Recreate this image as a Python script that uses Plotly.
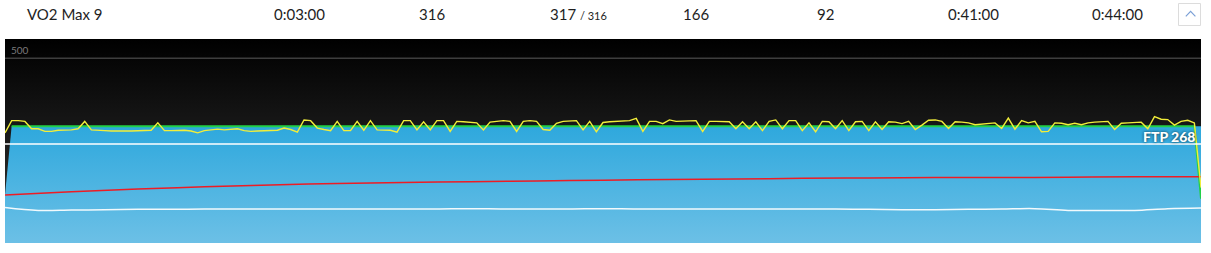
import plotly.graph_objects as go

# ---------------- data ----------------
header_labels = ["VO2 Max 9", "0:03:00", "316", "317", "/ 316", "166", "92", "0:41:00", "0:44:00"]

seconds = list(range(0, 181))

# target power (blue area) and target line (green)
target_area = [130] + [316] * 180
target_line = [None] + [316] * 179 + [120]

# actual power (yellow), one value per second
power = [
    298, 331, 331, 329, 309, 309, 302, 302, 305, 305,
    306, 309, 329, 306, 304, 304, 303, 302, 303, 303,
    303, 303, 305, 325, 304, 304, 305, 305, 303, 298,
    304, 305, 308, 306, 307, 309, 304, 302, 303, 304,
    305, 305, 311, 307, 300, 333, 331, 311, 307, 304,
    329, 304, 304, 329, 305, 331, 306, 306, 305, 300,
    331, 331, 306, 328, 306, 331, 331, 302, 329, 328,
    327, 325, 306, 327, 329, 331, 329, 302, 329, 331,
    329, 307, 305, 324, 329, 331, 331, 306, 329, 301,
    326, 328, 329, 330, 331, 337, 302, 329, 329, 323,
    333, 329, 329, 329, 331, 302, 329, 329, 329, 328,
    309, 328, 309, 328, 304, 329, 333, 309, 331, 331,
    304, 325, 301, 329, 328, 309, 331, 304, 328, 329,
    304, 328, 307, 328, 327, 323, 329, 307, 319, 332,
    333, 329, 310, 328, 327, 325, 320, 322, 325, 325,
    310, 338, 308, 331, 325, 329, 301, 302, 325, 324,
    320, 324, 320, 325, 327, 328, 329, 307, 324, 325,
    327, 327, 309, 342, 335, 334, 319, 329, 332, 325,
    150,
]

# heart rate (red), sampled every 10 s
hr_seconds = list(range(0, 181, 10))
heart_rate = [130, 139, 146, 152, 157, 161, 164, 166, 168, 170,
              172, 173, 175, 176, 177, 177, 178, 179, 179]

# cadence (white), sampled every 5 s
cad_seconds = list(range(0, 181, 5))
cadence = [96, 88, 89, 90, 91, 91, 92, 92, 92, 92,
           92, 92, 92, 92, 93, 92, 92, 92, 93, 92,
           92, 92, 92, 92, 92, 92, 91, 90, 90, 91,
           92, 93, 88, 88, 88, 93, 95]

ftp = 268
ftp_label = "FTP 268"
top_tick = 500
top_tick_label = "500"
y_max = 552

# ---------------- figure ----------------
W, H = 1211, 253
ML, MR, MT, MB = 5, 10, 39, 10
PW, PH = W - ML - MR, H - MT - MB


def px_x(px):
    return (px - ML) / PW


def px_y(py):
    return (H - MB - py) / PH


FONT = "Lato, 'Open Sans', sans-serif"

fig = go.Figure()

# dark gradient background
fig.add_trace(go.Scatter(
    x=[seconds[0], seconds[-1]], y=[y_max, y_max], mode="lines",
    line=dict(width=0), fill="tozeroy",
    fillgradient=dict(type="vertical", start=0, stop=y_max,
                      colorscale=[[0, "#363636"], [1, "#000000"]]),
    hoverinfo="skip", showlegend=False,
))

# blue target area
fig.add_trace(go.Scatter(
    x=seconds, y=target_area, mode="lines", line=dict(width=0),
    fill="tozeroy",
    fillgradient=dict(type="vertical", start=0, stop=316,
                      colorscale=[[0, "#6cc0e6"], [1, "#2ea8dd"]]),
    hoverinfo="skip", showlegend=False,
))

# green target line
fig.add_trace(go.Scatter(
    x=seconds, y=target_line, mode="lines",
    line=dict(color="#22d048", width=2), showlegend=False,
))

# heart rate
fig.add_trace(go.Scatter(
    x=hr_seconds, y=heart_rate, mode="lines", line_shape="spline",
    line=dict(color="#ee1c24", width=1.5), showlegend=False,
))

# cadence
fig.add_trace(go.Scatter(
    x=cad_seconds, y=cadence, mode="lines", line_shape="spline",
    line=dict(color="rgba(255,255,255,0.92)", width=1.5), showlegend=False,
))

# power
fig.add_trace(go.Scatter(
    x=seconds, y=power, mode="lines",
    line=dict(color="#f2ee3a", width=1.4), showlegend=False,
))

shapes = [
    dict(type="line", xref="paper", yref="y", x0=0, x1=1, y0=top_tick, y1=top_tick,
         line=dict(color="#3e3e3e", width=1.5), layer="above"),
    dict(type="line", xref="paper", yref="y", x0=0, x1=1, y0=ftp, y1=ftp,
         line=dict(color="#ffffff", width=1.5), layer="above"),
    # collapse button
    dict(type="rect", xref="paper", yref="paper",
         x0=px_x(1178.5), x1=px_x(1200.5), y0=px_y(25.5), y1=px_y(3.5),
         line=dict(color="#dcdcdc", width=1), fillcolor="#ffffff"),
    dict(type="path", xref="paper", yref="paper",
         path=f"M {px_x(1185.8)} {px_y(16.3)} L {px_x(1190.6)} {px_y(11.4)} L {px_x(1195.4)} {px_y(16.3)}",
         line=dict(color="#7a9fd6", width=1.2)),
]

annotations = []
hy = px_y(14)
hfont = dict(family=FONT, size=15, color="#1e1e1e")
annotations.append(dict(text=header_labels[0], x=px_x(25), y=hy, xref="paper", yref="paper",
                        xanchor="left", yanchor="middle", showarrow=False, font=hfont))
centers = {1: 299, 2: 432, 5: 696, 6: 825.5, 7: 973.5, 8: 1117.5}
for idx, cx in centers.items():
    annotations.append(dict(text=header_labels[idx], x=px_x(cx), y=hy, xref="paper", yref="paper",
                            xanchor="center", yanchor="middle", showarrow=False, font=hfont))
annotations.append(dict(
    text=f"{header_labels[3]} <span style='font-size:11px'>{header_labels[4]}</span>",
    x=px_x(578), y=hy, xref="paper", yref="paper",
    xanchor="center", yanchor="middle", showarrow=False, font=hfont))

annotations.append(dict(text=top_tick_label, x=px_x(9), y=523, xref="paper", yref="y",
                        xanchor="left", yanchor="middle", showarrow=False,
                        font=dict(family=FONT, size=10, color="#7a7a7a")))
annotations.append(dict(text=ftp_label, x=px_x(1197), y=288, xref="paper", yref="y",
                        xanchor="right", yanchor="middle", showarrow=False,
                        font=dict(family=FONT, size=14, color="#ffffff", weight=900,
                                  shadow="0px 0px 3px rgba(0,0,0,0.75)")))

fig.update_layout(
    width=W, height=H,
    margin=dict(l=ML, r=MR, t=MT, b=MB, pad=0),
    paper_bgcolor="#ffffff", plot_bgcolor="#000000",
    xaxis=dict(range=[0, 180], visible=False, fixedrange=True),
    yaxis=dict(range=[0, y_max], visible=False, fixedrange=True),
    shapes=shapes, annotations=annotations,
    showlegend=False,
)

fig.write_html("out.html", config={"displayModeBar": False})
